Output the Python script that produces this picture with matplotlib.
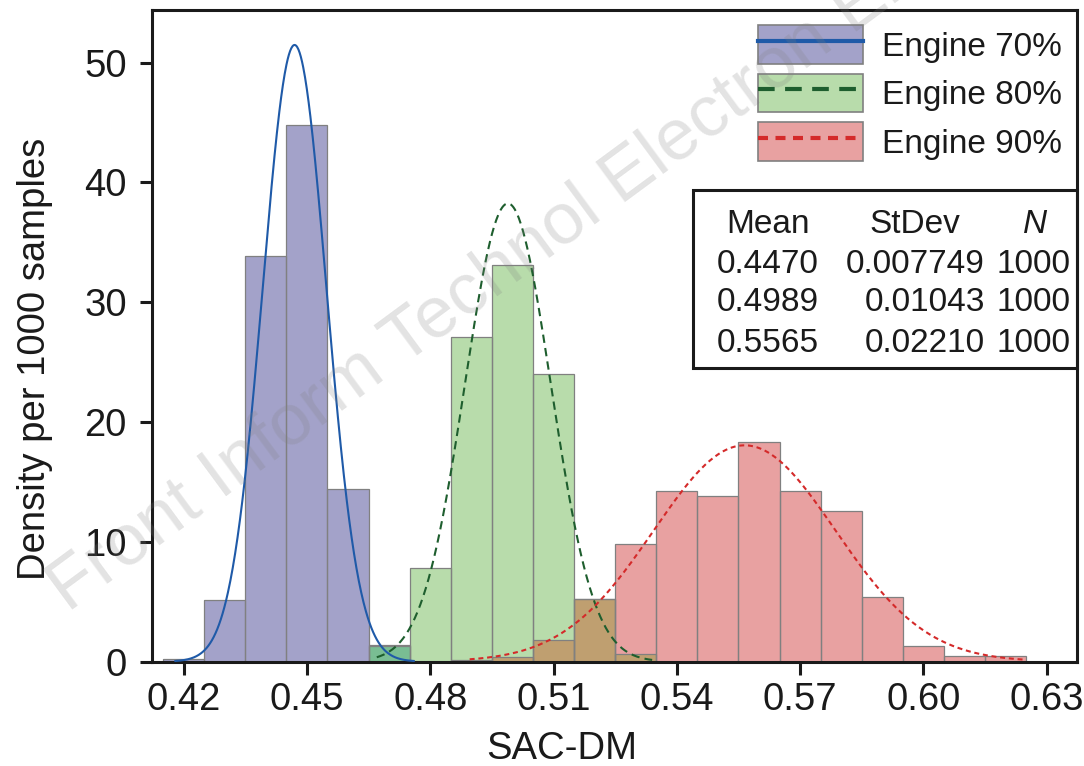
import numpy as np
import matplotlib
matplotlib.use('Agg')
import matplotlib.pyplot as plt
from matplotlib.patches import Patch, Rectangle
from matplotlib.lines import Line2D

plt.rcParams['font.family'] = ['Liberation Sans', 'DejaVu Sans']

# histogram bins (centres, width 0.01) and densities
centers = [0.42, 0.43, 0.44, 0.45, 0.46, 0.47, 0.48, 0.49, 0.50, 0.51, 0.52,
           0.53, 0.54, 0.55, 0.56, 0.57, 0.58, 0.59, 0.60, 0.61, 0.62]
dens_70 = [0.2, 5.1, 33.9, 44.8, 14.4, 1.4, 0, 0, 0, 0, 0,
           0, 0, 0, 0, 0, 0, 0, 0, 0, 0]
dens_80 = [0, 0, 0, 0, 0, 1.3, 7.85, 27.1, 33.1, 24.0, 5.2,
           0.6, 0, 0, 0, 0, 0, 0, 0, 0, 0]
dens_90 = [0, 0, 0, 0, 0, 0, 0, 0.1, 0.4, 1.8, 5.2,
           9.8, 14.25, 13.8, 18.35, 14.25, 12.6, 5.36, 1.3, 0.5, 0.5]

labels = ['Engine 70%', 'Engine 80%', 'Engine 90%']
means = [0.4470, 0.4989, 0.5565]
stdevs = [0.007749, 0.01043, 0.02210]
counts = [1000, 1000, 1000]
curve_span = [(0.418, 0.476), (0.467, 0.534), (0.4896, 0.625)]

face = ['#a3a2c9', '#b8dcab', '#e8a1a1']
mix_70_80 = '#79bd93'
mix_80_90 = '#bf9f70'
line_col = ['#1f5aa8', '#1e5e2e', '#d42a2a']
dash = [None, (4, 2.5), (2.4, 1.8)]
ink = '#1a1a1a'
edge = '#808080'

fig = plt.figure(figsize=(10.84, 7.66), dpi=100)
ax = fig.add_axes([0.13995, 0.1364, 0.8536, 0.8505])

series = [dens_70, dens_80, dens_90]
for d, fc in zip(series, face):
    ax.bar(centers, d, width=0.01, color=fc, edgecolor='none', zorder=2)
# where two histograms overlap the shared part shows a blended colour
ax.bar(centers, np.minimum(dens_70, dens_80), width=0.01, color=mix_70_80,
       edgecolor='none', zorder=2.2)
ax.bar(centers, np.minimum(dens_80, dens_90), width=0.01, color=mix_80_90,
       edgecolor='none', zorder=2.2)
for d in series:
    ax.bar(centers, d, width=0.01, fill=False, edgecolor=edge, linewidth=0.9, zorder=2.5)

# fitted normal curves from the mean / stdev in the table
for (lo, hi), m, s, c, ds in zip(curve_span, means, stdevs, line_col, dash):
    xs = np.linspace(lo, hi, 400)
    ys = np.exp(-0.5 * ((xs - m) / s) ** 2) / (s * np.sqrt(2 * np.pi))
    ln, = ax.plot(xs, ys, color=c, lw=1.5, zorder=3)
    if ds:
        ln.set_dashes(ds)

ax.set_xlim(0.41224, 0.63737)
ax.set_ylim(0, 54.4)
ax.set_xticks([0.42, 0.45, 0.48, 0.51, 0.54, 0.57, 0.60, 0.63])
ax.set_xticklabels(['0.42', '0.45', '0.48', '0.51', '0.54', '0.57', '0.60', '0.63'])
ax.set_yticks([0, 10, 20, 30, 40, 50])
for sp in ax.spines.values():
    sp.set_linewidth(2.2)
    sp.set_color(ink)
ax.tick_params(direction='out', length=9, width=2.2, color=ink,
               labelsize=27.5, labelcolor=ink)
ax.tick_params(axis='y', pad=9)
ax.tick_params(axis='x', pad=6)
ax.set_xlabel('SAC-DM', fontsize=27.5, color=ink)
ax.set_ylabel('Density per 1000 samples', fontsize=27.5, color=ink)
ax.xaxis.set_label_coords(0.4434, -0.106)
ax.yaxis.set_label_coords(-0.1067, 0.464)

# legend: filled patch with the curve style on top
handles = []
for fc, c, ds in zip(face, line_col, dash):
    p = Patch(facecolor=fc, edgecolor=edge, linewidth=1.2)
    l = Line2D([], [], color=c, lw=3)
    if ds:
        l.set_dashes(ds)
    handles.append((p, l))
ax.legend(handles, labels, loc='upper right', bbox_to_anchor=(1.0, 1.0),
          frameon=False, fontsize=24, handlelength=3.15, handleheight=1.4,
          handletextpad=0.55, labelspacing=0.3, borderaxespad=0.06,
          labelcolor=ink)

# stats table box
ax.add_patch(Rectangle((0.585, 0.4505), 0.415, 0.2732, transform=ax.transAxes,
                       fill=False, edgecolor=ink, linewidth=2.2, zorder=5, clip_on=False))

def axx(px):
    return (px - 151.7) / 925.3

def axy(py):
    return (661.5 - py) / 651.5

tkw = dict(transform=ax.transAxes, fontsize=24, color=ink, va='center', zorder=6)
ax.text(axx(768), axy(224), 'Mean', ha='center', **tkw)
ax.text(axx(915), axy(224), 'StDev', ha='center', **tkw)
ax.text(axx(1035), axy(224), 'N', ha='center', style='italic', **tkw)
row_y = [264.5, 302.5, 343.5]
for ry, m, s, n in zip(row_y, means, stdevs, counts):
    ax.text(axx(768), axy(ry), f'{m:.4f}', ha='center', **tkw)
    ax.text(axx(985), axy(ry), f'{s:.4g}' if s < 0.01 else f'{s:.5f}', ha='right', **tkw)
    ax.text(axx(1070), axy(ry), str(n), ha='right', **tkw)

# journal watermark
fig.text(68 / 1084, 1 - 613 / 766, 'Front Inform Technol Electron Eng',
         rotation=36.4, rotation_mode='anchor', ha='left', va='baseline',
         fontsize=52.5, color='#808080', alpha=0.22, zorder=10)

fig.savefig('out.png', dpi=100)
